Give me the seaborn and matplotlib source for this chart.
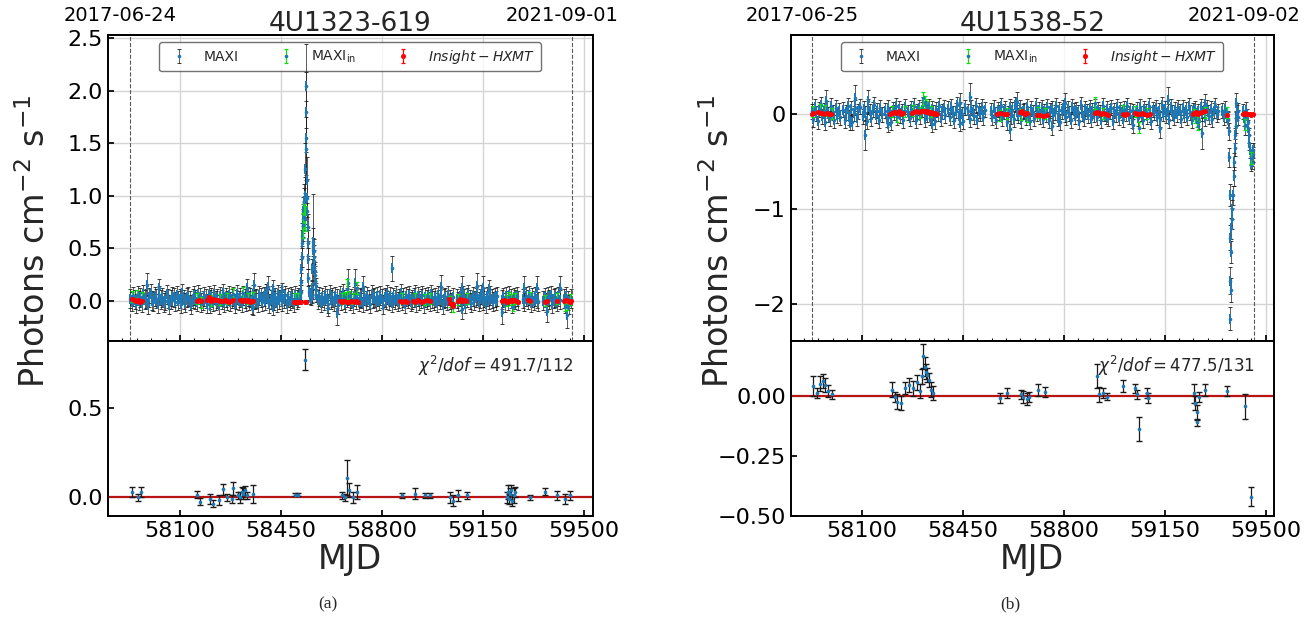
import numpy as np
import matplotlib
matplotlib.use("Agg")
import matplotlib.pyplot as plt
from matplotlib.ticker import MultipleLocator
from matplotlib.transforms import ScaledTranslation
import seaborn as sns

sns.set_theme(style="ticks", rc={
    "axes.edgecolor": "black", "axes.linewidth": 1.4,
    "xtick.direction": "in", "ytick.direction": "in",
    "xtick.color": "black", "ytick.color": "black",
    "xtick.major.size": 4, "ytick.major.size": 4,
    "xtick.minor.size": 2.5, "xtick.minor.width": 0.8,
})
plt.rcParams["font.family"] = ["DejaVu Sans"]

# ---------------------------------------------------------------- 4U1323-619
l_name = "4U1323-619"
l_dates_mjd = [57928, 59458]
l_dates_txt = ["2017-06-24", "2021-09-01"]
l_chi2 = r"$\chi^2/dof = 491.7/112$"

# MAXI daily-binned light curve, quiescent stretches (start MJD, end MJD)
l_seg_bounds = [(57928, 58515), (58578, 59045), (59059, 59200), (59215, 59272),
                (59288, 59342), (59359, 59415), (59429, 59454)]
l_seg_flux = [
    [0.02, -0.01, 0.04, 0.01, -0.03, 0.05, 0.00, 0.03, -0.02, 0.06,
     0.01, 0.02, -0.04, 0.03, 0.07, 0.00, -0.01, 0.04, 0.02, -0.03,
     0.05, 0.01, 0.03, -0.02, 0.00, 0.06, 0.02, -0.04, 0.01, 0.04,
     0.03, -0.01, 0.05, 0.00, 0.02, -0.03, 0.07, 0.01, -0.02, 0.03,
     0.04, 0.00, -0.04, 0.02, 0.05, 0.01, -0.01, 0.06, 0.03, -0.02,
     0.00, 0.04, 0.02, -0.03, 0.05, 0.01, 0.03, -0.01, 0.06, 0.00,
     0.02, -0.04, 0.04, 0.01, 0.07, -0.02, 0.03, 0.00, 0.05, -0.01,
     0.02, 0.04, -0.03, 0.01, 0.06, 0.00, 0.03, -0.02, 0.05, 0.02,
     -0.01, 0.04, 0.00, 0.03, -0.04, 0.06, 0.01, 0.02, -0.02, 0.05,
     0.03, -0.01, 0.04, 0.00, 0.07, 0.02, -0.03, 0.01, 0.05, 0.00,
     0.03, -0.02, 0.06, 0.01, 0.04, -0.01, 0.02, 0.05, -0.03, 0.03,
     0.00, 0.04, 0.02, -0.02, 0.05, 0.01, 0.03, 0.06],
    [0.01, 0.04, -0.02, 0.03, 0.00, 0.05, 0.02, -0.03, 0.06, 0.01,
     0.03, -0.01, 0.04, 0.02, -0.04, 0.05, 0.00, 0.07, 0.01, -0.02,
     0.03, 0.05, 0.00, 0.02, -0.03, 0.04, 0.01, 0.06, -0.01, 0.03,
     0.02, -0.02, 0.05, 0.00, 0.04, 0.01, -0.03, 0.06, 0.02, 0.03,
     -0.01, 0.04, 0.00, 0.05, 0.02, -0.04, 0.03, 0.01, 0.06, 0.00,
     0.04, -0.02, 0.03, 0.01, 0.05, -0.01, 0.02, 0.07, 0.00, 0.03,
     -0.03, 0.04, 0.02, 0.05, -0.01, 0.01, 0.03, 0.06, -0.02, 0.04,
     0.00, 0.02, 0.05, -0.03, 0.03, 0.01, 0.04, -0.01, 0.06, 0.02,
     0.00, 0.03, -0.02, 0.05, 0.01, 0.04, -0.04, 0.02, 0.03, 0.00,
     0.05, 0.01, -0.02, 0.03],
    [0.02, -0.01, 0.04, 0.00, 0.05, 0.02, -0.03, 0.03, 0.06, 0.01,
     -0.02, 0.04, 0.00, 0.03, 0.05, -0.01, 0.02, 0.06, 0.00, 0.03,
     -0.03, 0.04, 0.01, 0.05, 0.02, -0.01, 0.03, 0.00, 0.04],
    [0.01, 0.03, -0.02, 0.04, 0.00, 0.05, 0.02, -0.03, 0.03, 0.01, 0.04, 0.00],
    [0.02, -0.01, 0.04, 0.01, 0.05, -0.02, 0.03, 0.00, 0.04, 0.02, -0.01],
    [0.00, 0.03, -0.02, 0.04, 0.01, 0.05, -0.03, 0.02, 0.03, -0.01, 0.04, 0.01],
    [0.02, -0.03, 0.04, 0.00, -0.04, 0.02],
]
l_seg_err = 0.09

# MAXI outburst (daily)
l_burst_t = [58517, 58519, 58520, 58521, 58522, 58523, 58524, 58525, 58526, 58527,
             58528, 58529, 58530, 58531, 58532, 58533, 58534, 58535, 58536, 58537,
             58538, 58539, 58540, 58541, 58542, 58543, 58544, 58545, 58547, 58549,
             58551, 58553, 58555, 58557, 58558, 58559, 58560, 58561, 58562, 58563,
             58564, 58565, 58566, 58567, 58568, 58569, 58570, 58571, 58573]
l_burst_f = [0.03, 0.08, 0.18, 0.30, 0.42, 0.55, 0.62, 0.70, 0.78, 0.74,
             0.85, 0.92, 0.80, 0.95, 0.88, 1.00, 1.25, 1.55, 2.05, 1.80,
             1.45, 1.15, 0.98, 0.85, 0.70, 0.55, 0.40, 0.22, 0.08, 0.03,
             0.06, 0.02, 0.05, 0.04, 0.12, 0.30, 0.48, 0.56, 0.52, 0.47,
             0.42, 0.38, 0.33, 0.28, 0.24, 0.19, 0.14, 0.10, 0.05]
l_burst_e = [0.06, 0.07, 0.08, 0.10, 0.10, 0.12, 0.12, 0.13, 0.14, 0.13,
             0.14, 0.15, 0.14, 0.16, 0.15, 0.18, 0.25, 0.35, 0.40, 0.38,
             0.30, 0.22, 0.18, 0.15, 0.13, 0.12, 0.10, 0.08, 0.07, 0.06,
             0.06, 0.06, 0.06, 0.06, 0.07, 0.10, 0.12, 0.13, 0.50, 0.12,
             0.11, 0.10, 0.10, 0.09, 0.09, 0.08, 0.08, 0.07, 0.06]

# MAXI days with poor statistics
l_out_t = [57985, 58029, 58331, 58357, 58406, 58424, 58452, 58683, 58707, 58735,
           58834, 59003, 59076, 59128, 59151, 59169, 59292, 59336, 59415,
           58204, 58354, 58424, 58614, 58643, 59076, 59215, 59371, 59440]
l_out_f = [0.15, 0.12, 0.12, 0.15, 0.13, 0.11, 0.10, 0.17, 0.17, 0.13,
           0.31, 0.13, 0.12, 0.14, 0.12, 0.11, 0.12, 0.12, 0.12,
           -0.05, -0.06, -0.06, -0.07, -0.12, -0.08, -0.11, -0.10, -0.14]
l_out_e = [0.11, 0.09, 0.09, 0.11, 0.10, 0.09, 0.07, 0.13, 0.13, 0.10,
           0.12, 0.11, 0.11, 0.12, 0.11, 0.09, 0.11, 0.11, 0.11,
           0.07, 0.08, 0.08, 0.08, 0.11, 0.10, 0.11, 0.10, 0.12]

# MAXI restricted to Insight-HXMT epochs
l_mi_t = [57933, 57950, 57967, 58158, 58172, 58208, 58240, 58263, 58285, 58320,
          58337, 58354, 58499, 58510, 58527, 58530, 58533, 58660, 58672, 58678,
          58687, 58701, 58712, 58868, 58915, 58949, 58966, 59036, 59047, 59065,
          59094, 59232, 59240, 59248, 59255, 59261, 59313, 59365, 59405, 59434,
          59440, 59451]
l_mi_f = [0.04, 0.05, 0.03, 0.02, -0.02, 0.00, 0.01, 0.02, 0.06, 0.07,
          0.02, 0.03, 0.02, 0.02, 0.72, 0.80, 0.78, 0.02, 0.03, 0.11,
          0.04, 0.02, 0.12, 0.02, 0.02, 0.01, 0.02, -0.01, -0.06, 0.01,
          0.02, 0.00, 0.03, 0.01, -0.06, 0.02, 0.03, 0.00, 0.02, -0.06,
          -0.05, 0.01]
l_mi_e = [0.05, 0.05, 0.05, 0.05, 0.05, 0.05, 0.05, 0.05, 0.06, 0.06,
          0.05, 0.05, 0.05, 0.05, 0.12, 0.12, 0.12, 0.05, 0.05, 0.10,
          0.05, 0.05, 0.06, 0.05, 0.05, 0.05, 0.05, 0.05, 0.05, 0.05,
          0.05, 0.05, 0.05, 0.05, 0.04, 0.05, 0.05, 0.05, 0.05, 0.04,
          0.04, 0.05]

# Insight-HXMT
l_ins_t = [57933, 57940, 57947, 57955, 57962, 57967, 58158, 58165, 58172, 58193,
           58200, 58208, 58215, 58221, 58233, 58240, 58248, 58256, 58263, 58270,
           58278, 58285, 58308, 58315, 58322, 58330, 58337, 58343, 58348, 58354,
           58496, 58499, 58505, 58510, 58515, 58533, 58537, 58655, 58662, 58670,
           58678, 58686, 58694, 58702, 58710, 58718, 58862, 58870, 58878, 58885,
           58908, 58915, 58925, 58935, 58945, 58955, 58966, 59033, 59037, 59041,
           59045, 59047, 59062, 59070, 59078, 59085, 59091, 59217, 59222, 59228,
           59234, 59240, 59246, 59252, 59258, 59264, 59272, 59306, 59312, 59366,
           59372, 59405, 59432, 59438, 59444, 59450, 59454]
l_ins_f = [0.02, 0.01, 0.00, 0.01, -0.01, 0.00, 0.00, 0.01, 0.00, 0.01,
           0.03, 0.00, 0.02, 0.01, 0.01, 0.00, 0.00, 0.01, 0.00, -0.01,
           0.00, 0.01, 0.01, 0.00, 0.01, 0.00, 0.01, -0.01, 0.00, 0.00,
           -0.01, -0.01, -0.01, -0.01, -0.01, -0.01, -0.01, 0.00, -0.01, 0.00,
           -0.01, -0.01, 0.00, -0.01, 0.00, -0.01, 0.00, -0.01, 0.00, -0.01,
           0.00, -0.01, 0.01, -0.01, 0.00, 0.01, 0.00, 0.02, -0.02, -0.04,
           -0.05, -0.03, 0.00, 0.02, 0.00, 0.01, 0.00, 0.00, 0.01, 0.00,
           -0.01, 0.00, 0.01, 0.00, 0.01, 0.00, -0.01, 0.01, 0.00, -0.01,
           0.00, 0.00, 0.00, 0.01, 0.00, -0.01, 0.00]
l_ins_e = 0.006

# residuals (MAXI_in - Insight-HXMT)
l_res_t = [57933, 57956, 57965, 58158, 58170, 58204, 58216, 58235, 58250, 58262,
           58279, 58285, 58300, 58308, 58314, 58320, 58326, 58331, 58354, 58499,
           58510, 58533, 58660, 58672, 58678, 58687, 58701, 58712, 58868, 58915,
           58949, 58966, 59036, 59047, 59065, 59094, 59232, 59236, 59240, 59244,
           59248, 59252, 59256, 59261, 59313, 59365, 59405, 59434, 59451]
l_res_r = [0.03, 0.00, 0.03, 0.015, -0.025, -0.01, -0.035, -0.015, 0.045, 0.00,
           -0.01, 0.05, 0.01, 0.00, 0.03, 0.02, 0.04, 0.01, 0.02, 0.015,
           0.015, 0.77, 0.01, 0.00, 0.11, 0.04, 0.00, 0.03, 0.01, 0.02,
           0.01, 0.01, 0.00, -0.02, 0.01, 0.01, 0.00, 0.03, -0.01, 0.02,
           0.04, -0.02, 0.01, 0.03, 0.00, 0.03, 0.01, -0.01, 0.01]
l_res_e = [0.03, 0.02, 0.03, 0.02, 0.02, 0.03, 0.02, 0.03, 0.03, 0.02,
           0.02, 0.035, 0.02, 0.03, 0.03, 0.03, 0.025, 0.02, 0.05, 0.01,
           0.01, 0.06, 0.02, 0.02, 0.10, 0.04, 0.03, 0.04, 0.015, 0.03,
           0.015, 0.015, 0.03, 0.03, 0.03, 0.02, 0.03, 0.04, 0.03, 0.03,
           0.03, 0.03, 0.04, 0.03, 0.015, 0.02, 0.025, 0.03, 0.025]

# ---------------------------------------------------------------- 4U1538-52
r_name = "4U1538-52"
r_dates_mjd = [57929, 59459]
r_dates_txt = ["2017-06-25", "2021-09-02"]
r_chi2 = r"$\chi^2/dof = 477.5/131$"

r_seg_bounds = [(57927, 58025), (58036, 58094), (58103, 58169), (58181, 58250),
                (58262, 58389), (58400, 58458), (58470, 58527), (58547, 59041),
                (59053, 59197), (59203, 59336), (59350, 59368), (59420, 59436)]
r_seg_flux = [
    [0.03, -0.05, 0.08, 0.01, -0.07, 0.05, 0.10, -0.02, 0.04, -0.08,
     0.06, 0.00, -0.04, 0.09, 0.02, -0.06, 0.07, -0.01, 0.04, -0.03],
    [0.05, -0.06, 0.02, 0.09, -0.03, 0.06, -0.08, 0.01, 0.07, -0.04, 0.03, 0.08],
    [-0.02, 0.06, 0.01, -0.07, 0.08, 0.03, -0.04, 0.05, 0.10, -0.01, 0.04, -0.06, 0.07, 0.00],
    [0.04, -0.05, 0.07, 0.00, -0.08, 0.05, 0.02, 0.09, -0.03, 0.06, -0.01, 0.03, -0.06, 0.08],
    [0.02, -0.04, 0.06, 0.01, 0.09, -0.06, 0.03, 0.07, -0.02, 0.05,
     0.10, -0.05, 0.04, 0.00, 0.08, -0.03, 0.06, 0.02, -0.07, 0.05,
     0.01, 0.09, -0.04, 0.03, 0.07, -0.01],
    [0.06, -0.03, 0.08, 0.01, -0.06, 0.04, 0.10, -0.02, 0.05, 0.00, -0.07, 0.07],
    [0.03, -0.05, 0.07, 0.02, -0.02, 0.09, -0.06, 0.04, 0.01, 0.08, -0.03, 0.05],
    [0.04, -0.03, 0.07, 0.00, -0.06, 0.05, 0.02, 0.09, -0.04, 0.03,
     0.06, -0.08, 0.01, 0.08, -0.02, 0.05, -0.05, 0.10, 0.02, -0.01,
     0.07, -0.06, 0.03, 0.04, -0.03, 0.08, 0.00, -0.07, 0.06, 0.02,
     -0.04, 0.09, 0.01, 0.05, -0.02, 0.07, -0.05, 0.03, 0.00, 0.08,
     -0.06, 0.04, 0.06, -0.01, 0.02, 0.09, -0.04, 0.05, -0.08, 0.03,
     0.07, 0.00, -0.03, 0.06, 0.01, -0.06, 0.08, 0.04, -0.02, 0.05,
     0.02, -0.07, 0.10, 0.01, -0.04, 0.06, 0.03, -0.01, 0.07, -0.05,
     0.04, 0.00, 0.08, -0.03, 0.05, 0.02, -0.06, 0.09, 0.01, -0.02,
     0.06, -0.04, 0.03, 0.07, -0.07, 0.04, 0.00, 0.08, -0.03, 0.05,
     0.02, -0.05, 0.06, 0.01, 0.09, -0.02, 0.04, -0.06, 0.03],
    [0.05, -0.04, 0.08, 0.01, -0.06, 0.06, 0.03, -0.02, 0.09, 0.00,
     -0.07, 0.05, 0.02, 0.07, -0.03, 0.04, -0.05, 0.10, 0.01, 0.06,
     -0.01, 0.03, -0.06, 0.08, 0.02, -0.03, 0.05, 0.00, 0.07],
    [0.03, -0.05, 0.07, 0.00, 0.05, -0.03, 0.09, 0.02, -0.06, 0.04,
     0.06, -0.01, 0.03, -0.07, 0.08, 0.01, 0.05, -0.04, 0.07, 0.02,
     -0.02, 0.06, -0.05, 0.04, 0.09, 0.00, 0.03],
    [0.04, -0.03, 0.06, 0.00, -0.05],
    [0.03, -0.04, 0.05, -0.02],
]
r_seg_err = 0.08

# MAXI eclipse-like dips (daily)
r_burst_t = [59370, 59372, 59374, 59375, 59376, 59377, 59378, 59379, 59380, 59381,
             59383, 59385, 59387, 59389, 59391, 59393, 59395, 59397, 59399, 59401,
             59403, 59405,
             59438, 59440, 59442, 59444, 59446, 59448, 59450, 59452, 59454, 59456, 59457]
r_burst_f = [-0.06, -0.18, -0.45, -0.85, -1.30, -1.75, -2.15, -1.85, -1.45, -1.20,
             -1.10, -1.00, -0.85, -0.65, -0.50, -0.35, -0.22, -0.12, -0.04, 0.02,
             -0.03, 0.04,
             -0.08, -0.14, -0.22, -0.30, -0.38, -0.45, -0.52, -0.50, -0.46, -0.42, -0.38]
r_burst_e = [0.08, 0.09, 0.10, 0.12, 0.13, 0.14, 0.12, 0.13, 0.12, 0.11,
             0.11, 0.10, 0.10, 0.10, 0.09, 0.09, 0.08, 0.08, 0.08, 0.08,
             0.08, 0.08,
             0.08, 0.08, 0.08, 0.08, 0.08, 0.08, 0.08, 0.08, 0.08, 0.08, 0.08]

r_out_t = [57976, 58077, 58123, 58441, 58475, 58637, 58805, 59163, 59290, 59399,
           58060, 58111, 58192, 58343, 58441, 58614, 58758, 59041, 59134, 59278, 59428]
r_out_f = [0.14, 0.17, 0.14, 0.12, 0.18, 0.13, 0.12, 0.15, 0.11, 0.12,
           -0.09, -0.22, -0.10, -0.10, -0.09, -0.15, -0.12, -0.11, -0.14, -0.20, -0.12]
r_out_e = [0.12, 0.14, 0.12, 0.10, 0.15, 0.11, 0.10, 0.14, 0.10, 0.10,
           0.08, 0.16, 0.09, 0.09, 0.09, 0.12, 0.10, 0.09, 0.11, 0.16, 0.10]

r_mi_t = [57932, 57956, 57973, 57996, 58204, 58224, 58250, 58279, 58302, 58314,
          58318, 58323, 58328, 58339, 58579, 58602, 58651, 58672, 58712, 58735,
          58908, 58937, 59007, 59047, 59062, 59088, 59251, 59256, 59261, 59266,
          59290, 59365, 59428, 59451]
r_mi_f = [0.03, 0.05, 0.04, 0.01, 0.03, -0.02, 0.03, 0.04, 0.02, 0.17,
          0.13, 0.10, 0.08, 0.03, -0.01, 0.01, 0.00, -0.02, 0.02, 0.01,
          0.12, 0.01, 0.04, 0.03, -0.14, 0.01, 0.01, -0.04, -0.08, -0.12,
          0.02, 0.02, -0.11, -0.46]
r_mi_e = [0.06, 0.06, 0.06, 0.06, 0.06, 0.06, 0.06, 0.06, 0.06, 0.07,
          0.06, 0.06, 0.06, 0.06, 0.06, 0.06, 0.06, 0.06, 0.06, 0.06,
          0.06, 0.06, 0.06, 0.06, 0.06, 0.06, 0.05, 0.05, 0.05, 0.05,
          0.06, 0.06, 0.06, 0.06]

r_ins_t = [57927, 57932, 57947, 57955, 57963, 57971, 57979, 57986, 57992, 58198,
           58205, 58212, 58220, 58228, 58236, 58244, 58273, 58281, 58289, 58297,
           58305, 58310, 58314, 58318, 58323, 58328, 58332, 58336, 58340, 58345,
           58350, 58355, 58360, 58568, 58580, 58592, 58603, 58649, 58656, 58660,
           58665, 58672, 58706, 58718, 58730, 58741, 58908, 58914, 58922, 58930,
           58938, 58946, 58954, 59006, 59012, 59018, 59047, 59053, 59062, 59070,
           59080, 59090, 59099, 59249, 59253, 59257, 59261, 59265, 59270, 59278,
           59290, 59365, 59422, 59428, 59434, 59440, 59446, 59451, 59457]
r_ins_f = [0.00, 0.01, 0.02, 0.01, 0.01, 0.00, 0.01, 0.00, 0.00, 0.00,
           0.01, 0.02, 0.01, 0.03, 0.00, 0.01, 0.01, 0.02, 0.03, 0.02,
           0.04, 0.03, 0.04, 0.03, 0.02, 0.03, 0.02, 0.01, 0.02, 0.01,
           0.00, 0.01, 0.00, 0.00, 0.01, 0.00, 0.00, 0.02, 0.03, 0.01,
           0.00, 0.01, -0.01, -0.01, -0.02, -0.01, 0.01, 0.02, 0.01, 0.00,
           0.01, 0.00, -0.01, 0.00, -0.01, 0.00, 0.01, 0.00, 0.00, 0.01,
           0.00, -0.01, 0.00, 0.00, 0.01, 0.02, 0.01, 0.00, 0.01, 0.02,
           0.03, -0.01, 0.00, 0.01, 0.00, 0.00, 0.00, -0.01, 0.00]
r_ins_e = 0.008

r_res_t = [57932, 57944, 57956, 57965, 57973, 57984, 57996, 58204, 58215, 58224,
           58235, 58250, 58265, 58279, 58291, 58302, 58308, 58314, 58318, 58323,
           58328, 58332, 58339, 58348, 58579, 58602, 58651, 58660, 58672, 58681,
           58712, 58735, 58914, 58923, 58937, 58949, 59007, 59047, 59053, 59062,
           59088, 59093, 59251, 59256, 59261, 59263, 59268, 59290, 59365, 59428, 59451]
r_res_r = [0.04, 0.01, 0.05, 0.06, 0.045, 0.02, 0.005, 0.025, -0.005, -0.025,
           -0.03, 0.03, 0.045, 0.03, 0.055, 0.02, 0.08, 0.165, 0.12, 0.10,
           0.085, 0.065, 0.025, 0.01, -0.01, 0.01, 0.005, -0.005, -0.015, -0.005,
           0.025, 0.015, 0.08, 0.005, 0.01, -0.005, 0.04, 0.03, 0.005, -0.14,
           0.01, -0.01, 0.01, -0.03, -0.07, -0.11, -0.005, 0.025, 0.02, -0.045, -0.42]
r_res_e = [0.04, 0.02, 0.03, 0.03, 0.03, 0.025, 0.02, 0.03, 0.02, 0.03,
           0.03, 0.025, 0.03, 0.03, 0.03, 0.03, 0.03, 0.05, 0.04, 0.03,
           0.03, 0.03, 0.03, 0.03, 0.02, 0.02, 0.02, 0.025, 0.025, 0.02,
           0.025, 0.02, 0.05, 0.03, 0.02, 0.015, 0.025, 0.02, 0.02, 0.05,
           0.02, 0.02, 0.04, 0.03, 0.03, 0.015, 0.02, 0.025, 0.02, 0.05, 0.04]

# ---------------------------------------------------------------- drawing
W, H = 1314, 628
fig = plt.figure(figsize=(W / 100, H / 100), dpi=100)

GREEN = "#11dd11"
BLUE = "#1f77b4"
# tall, narrow filled marker: overlapping daily points read as a solid band
BAR_MARKER = [(-0.3, -1.0), (0.3, -1.0), (0.3, 1.0), (-0.3, 1.0), (-0.3, -1.0)]


def maxi_curve(bounds, seg_flux, seg_err, burst_t, burst_f, burst_e, out_t, out_f, out_e):
    t = [np.linspace(a, b, len(v)) for (a, b), v in zip(bounds, seg_flux)]
    f = [np.asarray(v, float) for v in seg_flux]
    e = [np.full(len(v), seg_err) for v in seg_flux]
    t = np.concatenate(t + [np.asarray(burst_t, float), np.asarray(out_t, float)])
    f = np.concatenate(f + [np.asarray(burst_f, float), np.asarray(out_f, float)])
    e = np.concatenate(e + [np.asarray(burst_e, float), np.asarray(out_e, float)])
    order = np.argsort(t)
    return t[order], f[order], e[order]


def draw_source(px_left, px_right, src):
    x0 = px_left / W
    w = (px_right - px_left) / W
    ax = fig.add_axes([x0, 1 - 341 / H, w, (341 - 34.7) / H])
    axr = fig.add_axes([x0, 1 - 516 / H, w, (516 - 341) / H], sharex=ax)

    t, f, e = src["maxi"]
    ax.grid(True, color="0.83", lw=1.0, zorder=0)
    for d in src["dates_mjd"]:
        ax.axvline(d, color="0.35", ls="--", lw=0.8, zorder=1)

    ax.errorbar(t, f, yerr=e, fmt="o", ms=1.6, mfc=BLUE, mec=BLUE, ecolor="k",
                elinewidth=0.5, capsize=1.3, capthick=0.6, label="MAXI", zorder=2)
    sns.scatterplot(x=t, y=f, ax=ax, color=BLUE, marker=BAR_MARKER, s=50,
                    linewidth=0, zorder=3, legend=False)
    ax.errorbar(src["mi_t"], src["mi_f"], yerr=src["mi_e"], fmt="o", ms=1.6,
                mfc=BLUE, mec=BLUE, ecolor=GREEN, elinewidth=0.9, capsize=1.5,
                capthick=0.9, label=r"MAXI$_{\rm in}$", zorder=4)
    ax.errorbar(src["ins_t"], src["ins_f"], yerr=src["ins_e"], fmt="o", ms=2.6,
                color="red", ecolor="red", elinewidth=0.9, capsize=1.5, capthick=0.9,
                label=r"$Insight-HXMT$", zorder=5)

    leg = ax.legend(loc="upper center", ncol=3, fontsize=10, columnspacing=2.4,
                    frameon=True, fancybox=True, edgecolor="0.3", framealpha=0.8,
                    borderaxespad=0.55)
    leg.set_zorder(1.9)

    ax.set_xlim(*src["xlim"])
    ax.set_ylim(*src["ylim"])
    ax.set_yticks(src["yticks"])
    ax.xaxis.set_major_locator(MultipleLocator(350))
    ax.xaxis.set_minor_locator(MultipleLocator(50))
    ax.tick_params(axis="x", which="both", labelbottom=False)
    ax.tick_params(axis="y", labelsize=16)
    ax.set_title(src["name"], fontsize=19, y=1.0, pad=3)

    sec = ax.secondary_xaxis("top")
    sec.set_xticks(src["dates_mjd"], labels=src["dates_txt"])
    sec.tick_params(length=0, labelsize=14, pad=7)
    shift = ScaledTranslation(-10 / 100, 0, fig.dpi_scale_trans)
    for lab in sec.get_xticklabels():
        lab.set_transform(lab.get_transform() + shift)

    # residual panel
    axr.axhline(0, color="#b81414", lw=1.6, zorder=1)
    axr.errorbar(src["res_t"], src["res_r"], yerr=src["res_e"], fmt="none",
                 ecolor="k", elinewidth=0.9, capsize=2.0, capthick=1.0, zorder=2)
    sns.scatterplot(x=src["res_t"], y=src["res_r"], ax=axr, color=BLUE, s=7,
                    linewidth=0, zorder=3, legend=False)
    axr.set_ylim(*src["res_ylim"])
    axr.set_yticks(src["res_yticks"])
    axr.tick_params(axis="both", labelsize=16)
    axr.tick_params(axis="x", which="minor", bottom=False)
    axr.text(0.96, 0.86, src["chi2"], transform=axr.transAxes, ha="right",
             va="center", fontsize=12)

    cx = (px_left + px_right) / 2
    fig.text(cx / W, 1 - 560 / H, "MJD", ha="center", va="center", fontsize=24)
    fig.text((px_left - 72.5) / W, 1 - 241 / H, r"Photons cm$^{-2}$ s$^{-1}$",
             rotation=90, ha="center", va="center", fontsize=24)
    fig.text((cx - 22) / W, 1 - 604 / H, src["caption"], ha="center", va="center",
             fontsize=12.5, family=["Liberation Serif", "DejaVu Serif"])


left_src = dict(
    name=l_name, dates_mjd=l_dates_mjd, dates_txt=l_dates_txt, chi2=l_chi2,
    maxi=maxi_curve(l_seg_bounds, l_seg_flux, l_seg_err, l_burst_t, l_burst_f,
                    l_burst_e, l_out_t, l_out_f, l_out_e),
    mi_t=l_mi_t, mi_f=l_mi_f, mi_e=l_mi_e,
    ins_t=l_ins_t, ins_f=l_ins_f, ins_e=l_ins_e,
    res_t=l_res_t, res_r=l_res_r, res_e=l_res_e,
    xlim=(57849, 59531), ylim=(-0.385, 2.535), yticks=[0, 0.5, 1.0, 1.5, 2.0, 2.5],
    res_ylim=(-0.105, 0.875), res_yticks=[0, 0.5], caption="(a)",
)
right_src = dict(
    name=r_name, dates_mjd=r_dates_mjd, dates_txt=r_dates_txt, chi2=r_chi2,
    maxi=maxi_curve(r_seg_bounds, r_seg_flux, r_seg_err, r_burst_t, r_burst_f,
                    r_burst_e, r_out_t, r_out_f, r_out_e),
    mi_t=r_mi_t, mi_f=r_mi_f, mi_e=r_mi_e,
    ins_t=r_ins_t, ins_f=r_ins_f, ins_e=r_ins_e,
    res_t=r_res_t, res_r=r_res_r, res_e=r_res_e,
    xlim=(57854, 59529), ylim=(-2.386, 0.838), yticks=[-2, -1, 0],
    res_ylim=(-0.5, 0.227), res_yticks=[-0.5, -0.25, 0.0], caption="(b)",
)

draw_source(107.5, 593.0, left_src)
draw_source(790.7, 1274.0, right_src)

fig.savefig("out.png", dpi=100)
